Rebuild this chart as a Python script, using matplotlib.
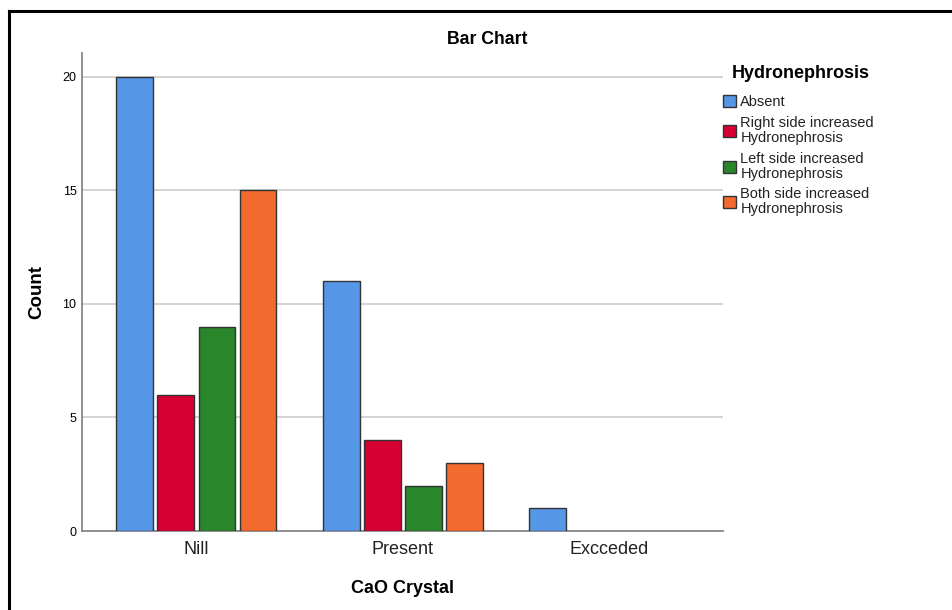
import numpy as np
import matplotlib
matplotlib.use("Agg")
import matplotlib.pyplot as plt
from matplotlib.lines import Line2D

plt.rcParams['font.family'] = ['Liberation Sans', 'DejaVu Sans']

categories = ["Nill", "Present", "Excceded"]
series = ["Absent", "Right side increased\nHydronephrosis",
          "Left side increased\nHydronephrosis", "Both side increased\nHydronephrosis"]
absent = [20, 11, 1]
right_side = [6, 4, 0]
left_side = [9, 2, 0]
both_side = [15, 3, 0]
colors = ["#5596e6", "#d60032", "#29862a", "#f36a2e"]

fig = plt.figure(figsize=(9.52, 6.10), dpi=100)
ax = fig.add_axes([82/952, 1-531/610, (723-82)/952, (531-53)/610])

x = np.arange(len(categories))
step = 0.199
width = 0.178
values = [absent, right_side, left_side, both_side]
for i, (vals, name, c) in enumerate(zip(values, series, colors)):
    pos = x + (i - 1.5) * step
    h = np.array(vals, dtype=float)
    mask = h > 0
    ax.bar(pos[mask], h[mask], width=width, color=c, edgecolor="#333333",
           linewidth=1.0, label=name, zorder=3)

ax.set_xlim(-0.554, 2.55)
ax.set_ylim(0, 21.05)
ax.set_yticks([0, 5, 10, 15, 20])
ax.set_xticks(x)
ax.set_xticklabels(categories, fontsize=13, color="#222222")
ax.tick_params(axis='y', labelsize=9, length=0, pad=4)
ax.tick_params(axis='x', length=0, pad=7)
ax.yaxis.grid(True, color="#cccccc", linewidth=1.2, zorder=0)
ax.set_axisbelow(True)
for s in ["top", "right"]:
    ax.spines[s].set_visible(False)
for s in ["left", "bottom"]:
    ax.spines[s].set_color("#888888")
    ax.spines[s].set_linewidth(1.3)

ax.set_ylabel("Count", fontsize=13.5, fontweight="bold")
ax.yaxis.set_label_coords(-0.0577, 0.5)
ax.set_xlabel("CaO Crystal", fontsize=13, fontweight="bold")
ax.xaxis.set_label_coords(0.5, -0.1025)
fig.text(487/952, 1-39/610, "Bar Chart", fontsize=12.7, fontweight="bold",
         ha="center", va="center")

# legend
fig.text(732/952, 1-73/610, "Hydronephrosis", fontsize=13, fontweight="bold",
         ha="left", va="center")
leg = ax.legend(loc="upper left", bbox_to_anchor=(723/952, 1-95/610),
                bbox_transform=fig.transFigure, frameon=False, fontsize=10.5,
                handlelength=0.89, handleheight=0.89,
                handletextpad=0.3, labelspacing=0.47, borderpad=0,
                borderaxespad=0)
for t in leg.get_texts():
    t.set_linespacing(1.08)
    t.set_color("#222222")

# outer frame
fig.add_artist(Line2D([9/952, 1], [1-11/610, 1-11/610], color="black", linewidth=2.2,
                      transform=fig.transFigure))
fig.add_artist(Line2D([9/952, 9/952], [0, 1-11/610], color="black", linewidth=2.2,
                      transform=fig.transFigure))

fig.savefig("out.png", dpi=100)
